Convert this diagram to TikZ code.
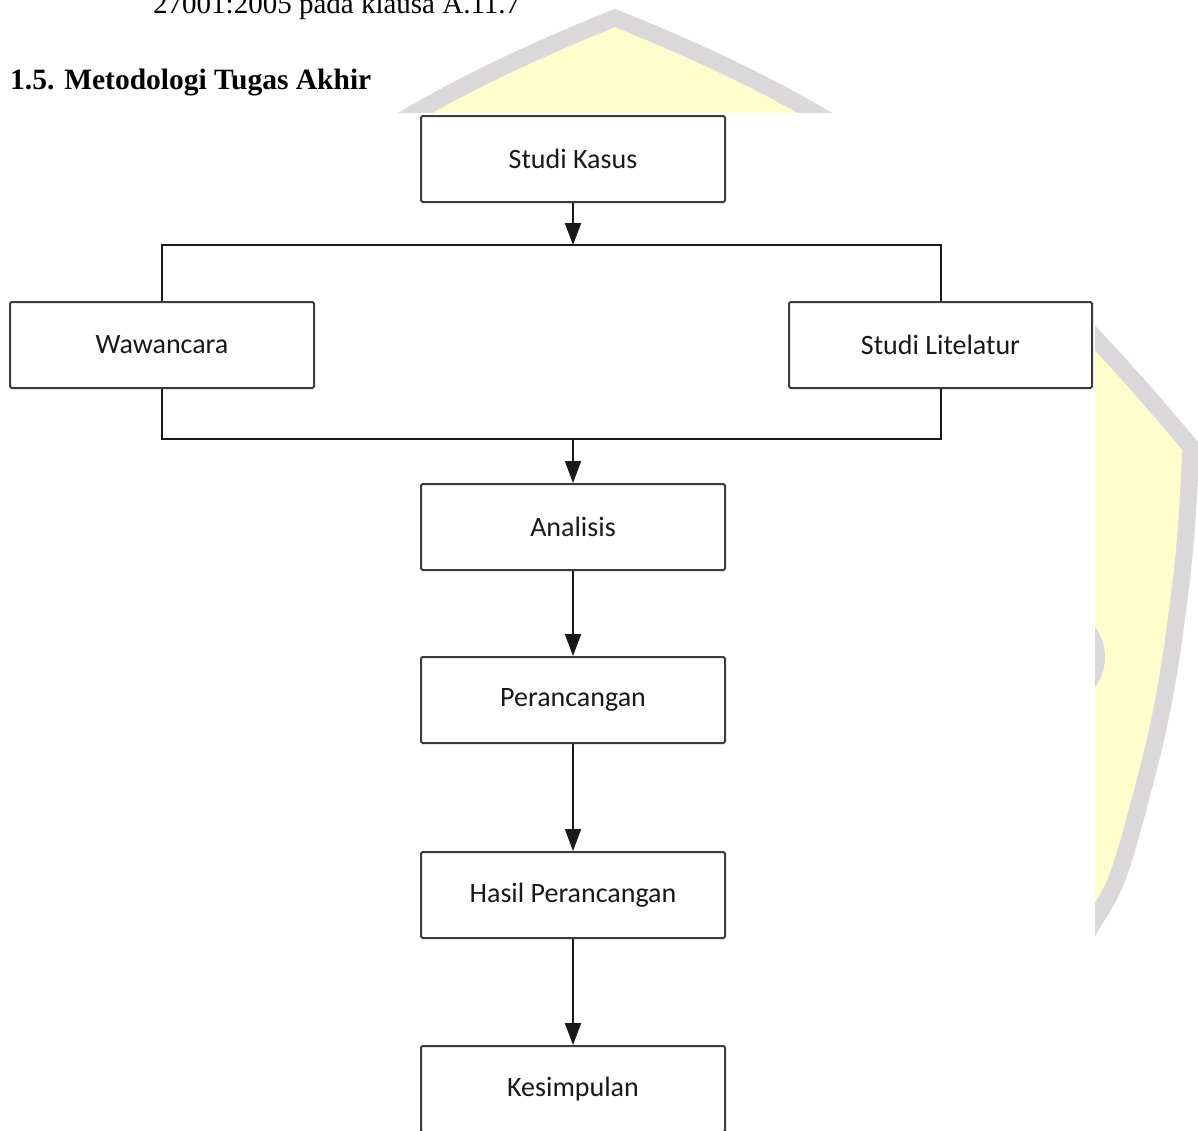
\documentclass[tikz,border=0pt]{standalone}
\usepackage{fontspec}
\setmainfont{Liberation Serif}
\newfontfamily\boxfont{Carlito}
\usetikzlibrary{arrows.meta}
\definecolor{shieldG}{RGB}{218,216,217}
\definecolor{shieldY}{RGB}{255,253,204}
\definecolor{boxline}{RGB}{60,60,60}
\definecolor{boxtext}{RGB}{25,25,25}
\tikzset{
  stepbox/.style={draw=boxline, line width=2pt, rounded corners=1.5pt, fill=white,
    minimum width=304pt, minimum height=86pt, inner sep=0pt,
    font=\boxfont\fontsize{28}{33}\selectfont, text=boxtext},
  conn/.style={draw=black!90, line width=2pt},
  arr/.style={conn, -{Triangle[length=22pt,width=16pt]}},
}
\begin{document}
\begin{tikzpicture}[x=1pt,y=-1pt]
\useasboundingbox (0,0) rectangle (1198,1130);
% watermark shield
\filldraw[fill=shieldY, draw=shieldG, line width=17pt, line join=miter, miter limit=20]
  (615,18) .. controls (875,122) and (1011,231) .. (1191,447)
  -- plot[smooth] coordinates {(1191,447) (1187,520) (1181,583) (1169,670) (1153,750) (1119,873) (1087,933) (1030,1030) (900,1150) (615,1290)}
  -- plot[smooth] coordinates {(615,1290) (330,1150) (200,1030) (143,933) (111,873) (77,750) (61,670) (49,583) (43,520) (39,447)}
  .. controls (219,231) and (355,122) .. (615,18) -- cycle;
\fill[shieldG] (1055,657) circle (50);
% white diagram area
\fill[white] (0,113) rectangle (1095,1135);
% page texts
\node[anchor=base west, inner sep=0pt, font=\fontsize{29}{34}\selectfont] (prev) at (153,13) {27001:2005 pada klausa A.11.7};
\node[anchor=base west, inner sep=0pt, font=\bfseries\fontsize{29.5}{34}\selectfont] (head) at (10,89) {1.5. Metodologi Tugas Akhir};
% boxes
\node[stepbox] (sk) at (573,159) {Studi Kasus};
\node[stepbox] (wa) at (162,345) {Wawancara};
\node[stepbox, minimum width=303pt] (sl) at (940.5,345) {Studi Litelatur};
\node[stepbox] (an) at (573,527) {Analisis};
\node[stepbox] (pr) at (573,700) {Perancangan};
\node[stepbox] (hp) at (573,895) {Hasil Perancangan};
\node[stepbox] (ks) at (573,1089) {Kesimpulan};
% junctions
\coordinate (jt) at (573,245);
\coordinate (jb) at (573,439);
% connectors
\draw[arr] (sk.south) -- (jt);
\draw[conn] (wa.north) -- (wa.north |- jt) -- (sl.north |- jt) -- (sl.north);
\draw[conn] (wa.south) -- (wa.south |- jb) -- (sl.south |- jb) -- (sl.south);
\draw[arr] (jb) -- (an.north);
\draw[arr] (an.south) -- (pr.north);
\draw[arr] (pr.south) -- (hp.north);
\draw[arr] (hp.south) -- (ks.north);
\end{tikzpicture}
\end{document}
